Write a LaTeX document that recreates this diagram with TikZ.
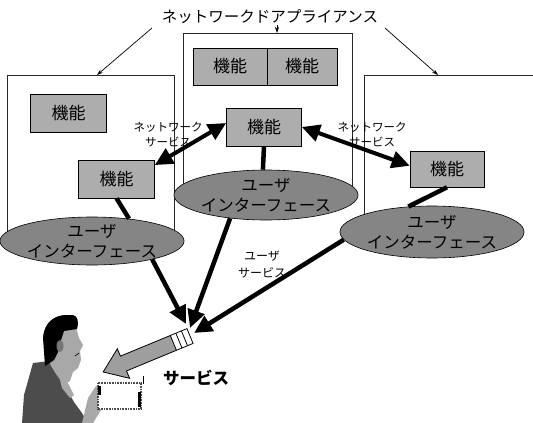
\documentclass[tikz,border=0pt]{standalone}
\usepackage{fontspec}
\newfontfamily\jp{Noto Sans CJK JP}
\usetikzlibrary{arrows.meta,calc,shapes.geometric}
\definecolor{boxgray}{gray}{0.68}
\definecolor{uigray}{gray}{0.52}
\definecolor{arrowgray}{gray}{0.62}
\definecolor{skingray}{gray}{0.66}
\definecolor{suitgray}{gray}{0.30}

\begin{document}
\begin{tikzpicture}[x=1pt,y=-1pt,
  frame/.style={draw=black!85,line width=0.8pt},
  func/.style={draw=black,line width=0.6pt,fill=boxgray,minimum width=76pt,minimum height=38pt,inner sep=0pt,font=\jp\fontsize{17}{17}\selectfont},
  ui/.style={ellipse,draw=black,line width=0.6pt,fill=uigray,inner sep=0pt,align=center,font=\jp\fontsize{16.5}{20}\selectfont},
  lbl/.style={align=center,inner sep=0pt,font=\jp\fontsize{11.5}{15.5}\selectfont},
  link/.style={line width=4.5pt},
  flow/.style={line width=4.5pt,-{Triangle[length=18pt,width=17pt]}},
  netsvc/.style={line width=4pt,{Triangle[length=18pt,width=17pt]}-{Triangle[length=18pt,width=17pt]}},
  lead/.style={line width=0.7pt,-{Stealth[length=6pt,width=4pt]}}]

\useasboundingbox (0,0) rectangle (533,423);

% appliance frames
\draw[frame] (7,241) -- (7,75) -- (174,75) -- (174,241);
\draw[frame] (183,195) -- (183,33) -- (352,33) -- (352,195);
\begin{scope}
  \clip (0,0) rectangle (533,423);
  \draw[frame] (540,75) -- (364,75) -- (364,232);
\end{scope}

% title and leader arrows
\node[inner sep=0pt,font=\jp\fontsize{15.5}{15.5}\selectfont] (tt) at (270,17) {ネットワークドアプライアンス};
\coordinate (la) at (152,28);
\coordinate (ma) at (277,25);
\coordinate (ra) at (385,28);
\coordinate (lt) at (97,75);
\coordinate (mt) at (277,33);
\coordinate (rt) at (438,75);
\draw[lead] (la) -- (lt);
\draw[lead] (ma) -- (mt);
\draw[lead] (ra) -- (rt);

% function blocks
\node[func] (lf1) at (68.5,113.5) {機能};
\node[func] (lf2) at (116.5,179) {機能};
\node[func,minimum width=74pt,minimum height=37pt] (mt1) at (230,66.5) {機能};
\node[func,minimum width=70pt,minimum height=37pt] (mt2) at (302,66.5) {機能};
\node[func,minimum width=75pt] (mf) at (264,127) {機能};
\node[func,minimum width=74pt,minimum height=36pt] (rf) at (447,169) {機能};

% user interfaces
\node[ui,minimum width=172pt,minimum height=48pt] (le) at (92,241) {ユーザ\\インターフェース};
\node[ui,minimum width=175pt,minimum height=50pt] (me) at (266,195) {ユーザ\\インターフェース};
\node[ui,minimum width=156pt,minimum height=52pt] (re) at (432,232) {ユーザ\\インターフェース};

% function to interface links
\draw[link] (lf2.south) -- (le.31);
\draw[link] (mf.south) -- (me.97);
\draw[link] (rf.south) -- (re.133);

% network services
\draw[netsvc] (lf2.20) -- (mf.174);
\draw[netsvc] (mf.east) -- (rf.175);
\node[lbl] (ns1) at (168,134.5) {ネットワーク\\サービス};
\node[lbl] (ns2) at (372,134.5) {ネットワーク\\サービス};
\node[lbl,font=\jp\fontsize{12}{17}\selectfont] (us) at (262,264.5) {ユーザ\\サービス};

% service delivered to the user
\begin{scope}[shift={(190,336)},rotate=202.5]
  \fill[arrowgray] (18,-8) -- (72,-8) -- (72,-16) -- (94,0) -- (72,16) -- (72,8) -- (18,8) -- cycle;
  \fill[white] (0,-8) rectangle (18,8);
  \draw[line width=0.8pt] (0,-8) -- (72,-8) -- (72,-16) -- (94,0) -- (72,16) -- (72,8) -- (0,8) -- cycle;
  \draw[line width=0.8pt] (6,-8) -- (6,8) (12,-8) -- (12,8) (18,-8) -- (18,8);
\end{scope}
\node[inner sep=0pt,font=\jp\bfseries\fontsize{16.5}{16.5}\selectfont] (svc) at (196,378) {サービス};

% user service flows
\coordinate (hub1) at (186,324);
\coordinate (hub2) at (190,328);
\coordinate (hub3) at (194,333);
\draw[flow] (le.-17) -- (hub1);
\draw[flow] (me.213) -- (hub2);
\draw[flow] (re.185) -- (hub3);

% the user
\fill[suitgray] (33,363) -- (50,361) -- (58,374) -- (66,388) -- (74,402) -- (82,413) -- (88,423) -- (22,423) -- (24,395) -- cycle;
\fill[skingray] (60,330) -- (76,327) -- (79,338) -- (83,345) -- (80,351) -- (81,360) -- (78,368) -- (73,372) -- (70,381) -- (64,385) -- (56,374) -- (50,364) -- cycle;
\fill[skingray] (60,380) -- (68,383) -- (74,395) -- (70,398) -- (62,388) -- cycle;
\fill[black] (45,366) -- (43,338) .. controls (44,322) and (55,315) .. (66,315) -- (73,315) .. controls (78,316) and (79,322) .. (77,329) -- (64,331) -- (61,340) -- (58,352) -- (54,360) -- cycle;
\fill[skingray!70!black] (60,346) ellipse (3.5 and 6);
\draw[line width=0.6pt] (79,353) -- (75,356);
\fill[skingray] (82,423) -- (88,398) -- (96,386) -- (102,388) -- (101,410) -- (93,423) -- cycle;
\draw[draw=black!70,line width=2.5pt,dash pattern=on 1pt off 0.6pt,fill=white] (98,383) rectangle (141,409);
\draw[black,line width=2.5pt] (99.5,386) -- (99.5,395) (139.5,392) -- (139.5,407);
\draw[line width=0.8pt] (143,376) -- (143,384);
\end{tikzpicture}
\end{document}
